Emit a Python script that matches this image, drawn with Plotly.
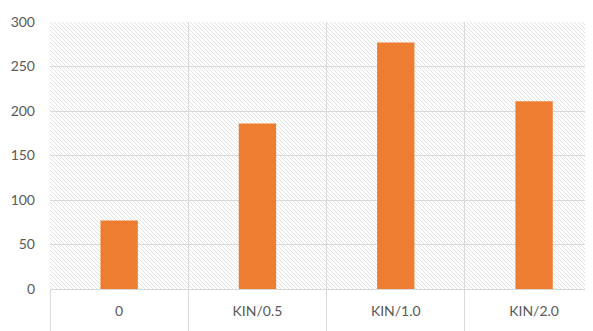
import base64
import plotly.graph_objects as go

categories = ["0", "KIN/0.5", "KIN/1.0", "KIN/2.0"]
values = [77, 186, 277, 211]
y_ticks = [0, 50, 100, 150, 200, 250, 300]
y_max = 300

# page body has an 8px default margin, so the figure is sized to fit the window
W, H = 585, 323
ML, MR, MT, MB = 42, 0, 14, 42
pw, ph = W - ML - MR, H - MT - MB

# diagonal hatch used as the plot-area background (drawn below gridlines)
svg = (
    f'<svg xmlns="http://www.w3.org/2000/svg" width="{pw}" height="{ph}" '
    f'viewBox="0 0 {pw} {ph}" preserveAspectRatio="none">'
    '<defs><pattern id="h" patternUnits="userSpaceOnUse" width="4" height="4">'
    '<path d="M-1,-1 L5,5 M-1,3 L1,5 M3,-1 L5,1" stroke="#e2e2e2" stroke-width="1"/>'
    '</pattern></defs>'
    f'<rect width="{pw}" height="{ph}" fill="white"/>'
    f'<rect width="{pw}" height="{ph}" fill="url(#h)"/></svg>'
)
hatch_src = "data:image/svg+xml;base64," + base64.b64encode(svg.encode()).decode()

fig = go.Figure()
fig.add_trace(go.Bar(
    x=categories, y=values, width=0.27,
    marker=dict(color="#ED7D31", line=dict(width=0)),
    showlegend=False,
))

fig.add_layout_image(dict(
    source=hatch_src, xref="paper", yref="paper", x=0, y=1,
    sizex=1, sizey=1, xanchor="left", yanchor="top",
    sizing="stretch", layer="below",
))

fig.update_layout(
    width=W, height=H,
    margin=dict(l=ML, r=MR, t=MT, b=MB),
    paper_bgcolor="white", plot_bgcolor="white",
    font=dict(family="Lato", size=14, color="#595959"),
    xaxis=dict(
        type="category", range=[-0.5, 3.426], automargin=False,
        tickson="boundaries", ticks="outside", ticklen=42, tickcolor="#d9d9d9",
        tickwidth=1, showgrid=True, gridcolor="#d9d9d9", gridwidth=1,
        showline=True, linecolor="#d9d9d9", linewidth=1,
        ticklabelstandoff=9,
    ),
    yaxis=dict(
        range=[0, y_max], tickvals=y_ticks, automargin=False,
        showgrid=True, gridcolor="#d9d9d9", gridwidth=1,
        zeroline=False, showline=False, ticks="", ticklabelstandoff=14,
    ),
)

fig.write_html("out.html")
